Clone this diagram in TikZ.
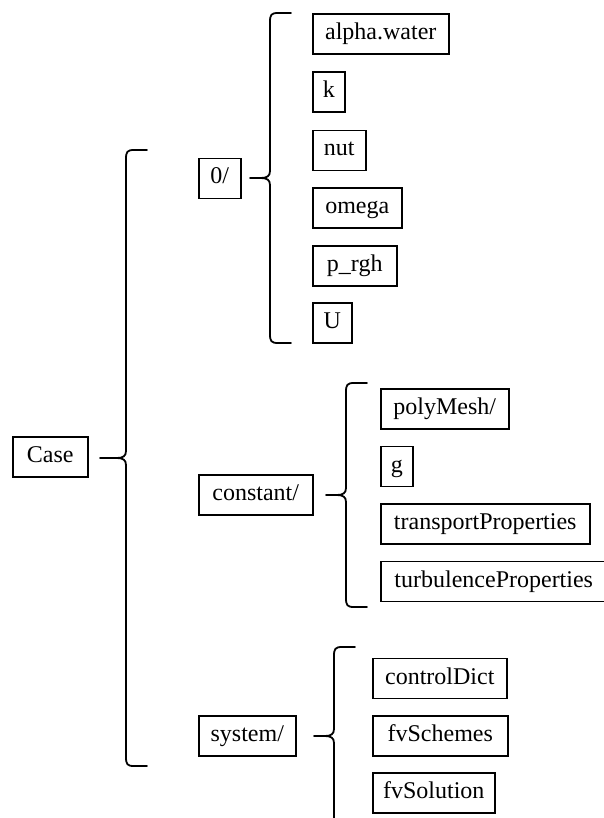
\documentclass[tikz,border=0pt]{standalone}
\usepackage{fontspec}
\setmainfont{Liberation Serif}
\begin{document}
\begin{tikzpicture}[x=1pt,y=-1pt,
  box/.style={draw, line width=1.5pt, anchor=west, inner xsep=10pt, inner ysep=0pt,
    minimum height=40pt, text height=16pt, text depth=5pt,
    font=\fontsize{24}{28}\selectfont},
  bracestyle/.style={line width=1.8pt, line join=round, line cap=round}]
\useasboundingbox (0,0) rectangle (603,818);
\newcommand\curlybrace[4]{\draw[bracestyle, shift={(#1,#2)}]
  (21,-#3) -- (8,-#3) .. controls (1,-#3) and (0,-#3+2) .. (0,-#3+9) -- (0,-7)
  .. controls (0,-2) and (-3,0) .. (-9,0) -- (-#4,0)
  (-9,0) .. controls (-3,0) and (0,2) .. (0,7) -- (0,#3-9)
  .. controls (0,#3-2) and (1,#3) .. (8,#3) -- (21,#3);}

% root
\node[box, minimum width=75pt] (case) at (12,457) {Case};
\curlybrace{126}{458}{308}{26}

% level 1
\node[box, minimum width=42pt]  (zero) at (198,178.5) {0/};
\node[box, minimum width=114pt] (constant) at (198,495) {constant/};
\node[box, minimum width=97pt]  (system) at (198,736) {system/};

\curlybrace{270}{178}{165}{20}
\curlybrace{346}{495}{112}{20}
\curlybrace{334}{736}{89}{20}

% 0/ contents
\node[box, minimum width=136pt] (alpha) at (312,34) {alpha.water};
\node[box, minimum width=29pt]  (k)     at (312,92) {k};
\node[box, minimum width=53pt]  (nut)   at (312,150.5) {nut};
\node[box, minimum width=89pt]  (omega) at (312,208) {omega};
\node[box, minimum width=84pt]  (prgh)  at (312,266) {p\_rgh};
\node[box, minimum width=39pt]  (U)     at (312,323) {U};

% constant/ contents
\node[box, minimum width=128pt] (poly)  at (380,409) {polyMesh/};
\node[box, minimum width=31pt]  (g)     at (380,466.5) {g};
\node[box, minimum width=209pt] (trans) at (380,524) {transportProperties};
\node[box, minimum width=226pt] (turb)  at (380,581.5) {turbulenceProperties};

% system/ contents
\node[box, minimum width=134pt] (ctrl)  at (372,678.5) {controlDict};
\node[box, minimum width=135pt] (sch)   at (372,736) {fvSchemes};
\node[box, minimum width=122pt] (sol)   at (372,793) {fvSolution};
\end{tikzpicture}
\end{document}
